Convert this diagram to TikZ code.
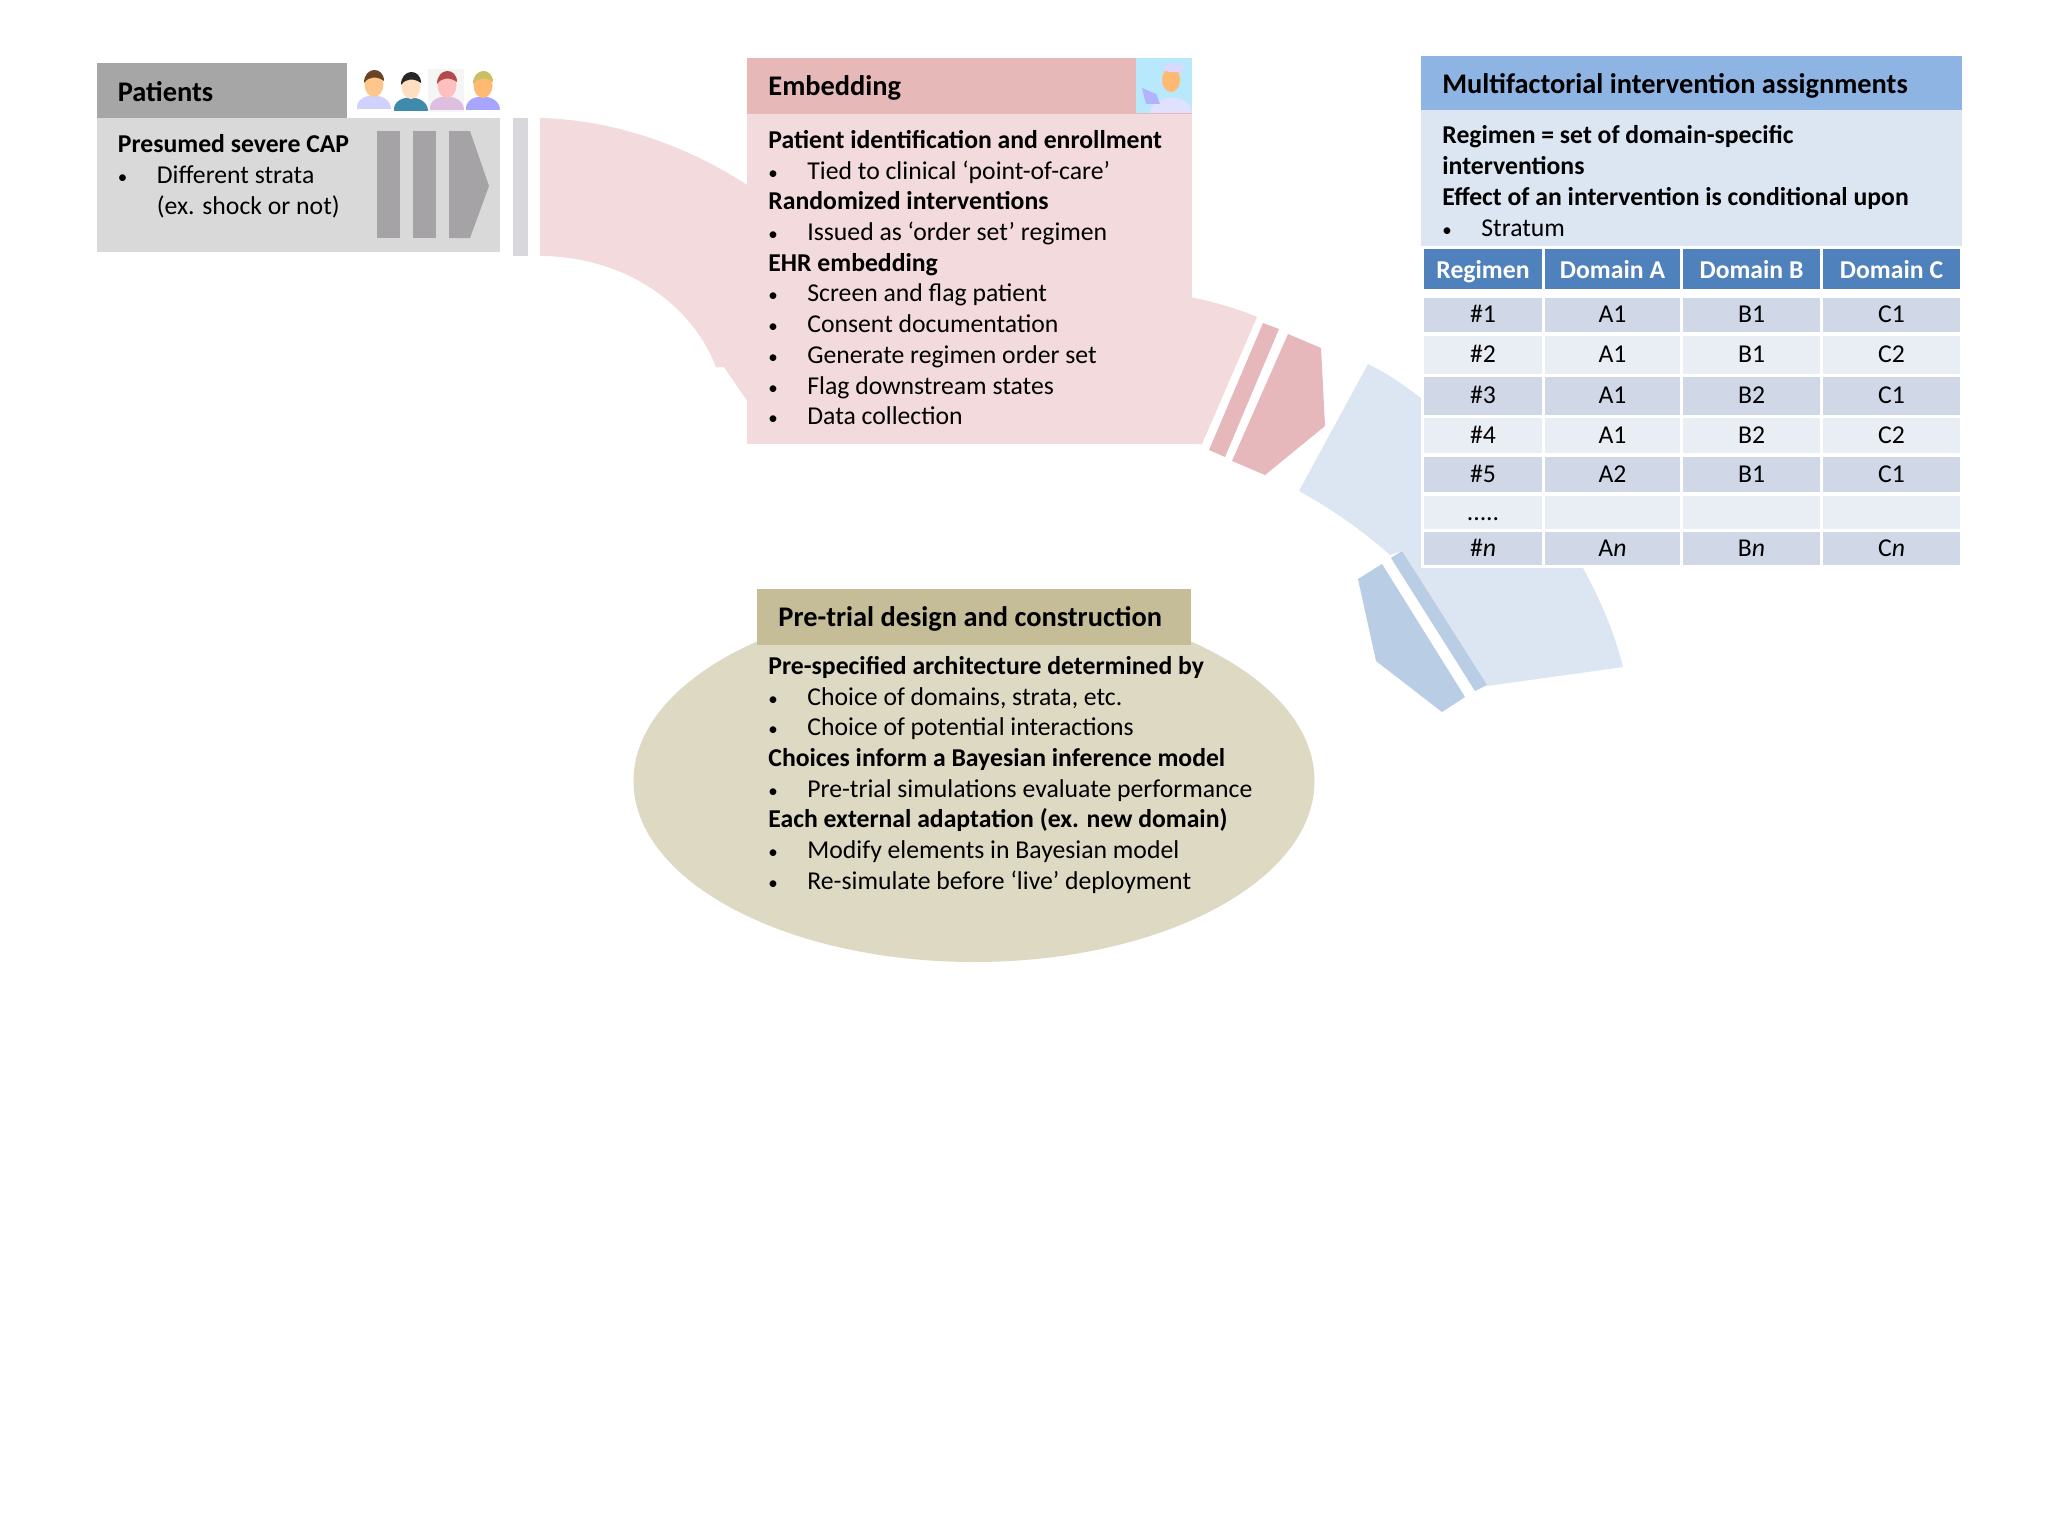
\documentclass[tikz,border=0pt]{standalone}
\usepackage{fontspec}
\setmainfont{Carlito}
\usetikzlibrary{shapes.geometric}
\definecolor{patienthead}{HTML}{A6A6A6}
\definecolor{patientbody}{HTML}{D9D9D9}
\definecolor{patientbar}{HTML}{A5A3A6}
\definecolor{patientstrip}{HTML}{D8D7DB}
\definecolor{embedhead}{HTML}{E6B9B8}
\definecolor{embedbody}{HTML}{F3DADC}
\definecolor{embedmark}{HTML}{E6B7BB}
\definecolor{regimenhead}{HTML}{8EB4E3}
\definecolor{regimenbody}{HTML}{DCE6F2}
\definecolor{regimenmark}{HTML}{B9CDE5}
\definecolor{cellhead}{HTML}{4F81BD}
\definecolor{cellodd}{HTML}{D0D8E8}
\definecolor{celleven}{HTML}{E9EDF4}
\definecolor{pretrialhead}{HTML}{C4BD97}
\definecolor{pretrialbody}{HTML}{DDD9C3}
\newcommand{\bul}[1]{\makebox[19.5pt][l]{\fontsize{9.5}{9.5}\selectfont•}#1}
\newcommand{\bhang}[1]{\hspace*{19.5pt}#1}
\newcommand{\fivedots}{.{}.{}.{}.{}.}
\newcommand{\personicon}[5]{%
  \begin{scope}[shift={(#1,#2)}]
    \fill[#5] (-17,24) .. controls (-19,6) and (17,6) .. (17,24) -- cycle;
    \fill[#4] (0,-1) ellipse [x radius=9.5, y radius=13];
    \fill[#3] (-10,-2) .. controls (-10,-19) and (10,-19) .. (10,-4) .. controls (3,-9) and (-5,-9) .. (-10,-2) -- cycle;
  \end{scope}}
\tikzset{
  headtext/.style={font=\fontsize{14.2}{17}\selectfont\bfseries, anchor=west, inner sep=0pt},
  bodytext/.style={font=\fontsize{12.85}{15.35}\selectfont, align=left, anchor=north west, inner sep=0pt},
  cell/.style={font=\fontsize{12.85}{15}\selectfont, inner sep=0pt, text height=9.4pt, text depth=1.6pt},
  cellh/.style={cell, text=white, font=\fontsize{12.85}{15}\selectfont\bfseries, text height=10.6pt, text depth=1pt}
}
\begin{document}
\begin{tikzpicture}[x=0.5pt,y=-0.5pt]
  \useasboundingbox (0,0) rectangle (2048,1536);
  \fill[white] (0,0) rectangle (2048,1536);

  % Patients box
  \fill[patienthead] (97,63) rectangle (347,118);
  \fill[patientbody] (97,118) rectangle (500,252);
  \foreach \barx in {377,413} {
    \fill[patientbar] (\barx,131) rectangle (\barx+23,238);
  }
  \fill[patientbar] (449,131) -- (470,131) -- (489,186) -- (470,238) -- (449,238) -- cycle;
  \fill[patientstrip] (513,118) rectangle (528,256);
  \personicon{374}{85}{black!45!brown}{orange!45!white}{blue!18!white}
  \personicon{411}{87}{black!85}{orange!25!white}{cyan!65!black}
  \fill[gray!8] (428,69) rectangle (464,112);
  \personicon{447}{86}{red!40!gray}{red!25!white}{violet!25!white}
  \personicon{483}{86}{yellow!50!gray}{orange!55!white}{blue!35!white}
  \node[headtext] (patientstitle) at (117.5,92) {Patients};
  \node[bodytext] (patientstext) at (117.5,134.5) {\textbf{Presumed severe CAP}\\
    \bul{Different strata}\\
    \bhang{(ex. shock or not)}};

  % Curved band into embedding
  \fill[embedbody] (540,118) .. controls (620,120) and (695,150) .. (750,187) -- (750,405) -- (724,367) -- (716,367)
    .. controls (690,300) and (620,256) .. (540,256) -- cycle;

  % Embedding box
  \fill[embedhead] (747,58) rectangle (1192,114);
  \fill[embedbody] (747,114) rectangle (1192,444);
  \fill[cyan!28!white] (1136,58) rectangle (1192,113);
  \fill[blue!12!white] (1150,113) .. controls (1150,95) and (1190,90) .. (1192,113) -- cycle;
  \fill[blue!30!white] (1142,88) -- (1156,94) -- (1160,104) -- (1146,104) -- cycle;
  \fill[orange!55!white] (1171,80) ellipse [x radius=9, y radius=12];
  \fill[white!85!blue] (1162,70) .. controls (1168,60) and (1182,60) .. (1186,72) -- (1170,72) -- cycle;
  \node[headtext] (embedtitle) at (768,88) {Embedding};
  \node[bodytext] (embedtext) at (768,130) {\textbf{Patient identification and enrollment}\\
    \bul{Tied to clinical ‘point-of-care’}\\
    \textbf{Randomized interventions}\\
    \bul{Issued as ‘order set’ regimen}\\
    \textbf{EHR embedding}\\
    \bul{Screen and flag patient}\\
    \bul{Consent documentation}\\
    \bul{Generate regimen order set}\\
    \bul{Flag downstream states}\\
    \bul{Data collection}};

  % Band and arrow out of embedding
  \fill[embedbody] (1190,297) .. controls (1215,302) and (1238,309) .. (1257,317) -- (1202,444) -- (1190,444) -- cycle;
  \fill[embedmark] (1263,323) -- (1279,329) -- (1225,457) -- (1209,450) -- cycle;
  \fill[embedmark] (1288,334) -- (1321,348) -- (1325,426) -- (1265,475) -- (1232,461) -- cycle;

  % Band behind the table
  \fill[regimenbody] (1368,364) .. controls (1388,374) and (1406,386) .. (1430,405) -- (1583,568)
    .. controls (1602,603) and (1615,635) .. (1623,667) -- (1487,686) -- (1402,551) -- (1390,555)
    .. controls (1362,530) and (1330,508) .. (1299,491) -- cycle;
  \fill[regimenmark] (1402,551) -- (1487,685) -- (1475,691) -- (1391,558) -- cycle;
  \fill[regimenmark] (1382,564) -- (1465,697) -- (1442,712) -- (1376,661) -- (1358,579) -- cycle;

  % Assignments box
  \fill[white] (1421,246) rectangle (1962,568);
  \fill[regimenhead] (1421,56) rectangle (1962,110);
  \fill[regimenbody] (1421,110) rectangle (1962,246);
  \node[headtext] (regimentitle) at (1442,86) {Multifactorial intervention assignments};
  \node[bodytext] (regimentext) at (1442,125.5) {\textbf{Regimen = set of domain-specific}\\
    \textbf{interventions}\\
    \textbf{Effect of an intervention is conditional upon}\\
    \bul{Stratum}};

  % Table
  \foreach \xa/\xb/\cname/\ctext in {1424/1542/reg/Regimen,1545/1680/doma/Domain A,1683/1820/domb/Domain B,1823/1960/domc/Domain C} {
    \pgfmathsetmacro{\cw}{(\xb-\xa)*0.5}
    \node[cellh, fill=cellhead, minimum width=\cw pt, minimum height=20pt] (\cname) at ({(\xa+\xb)/2},269) {\ctext};
  }
  \foreach \rname/\ya/\yb/\rowfill/\ta/\tb/\tc/\td in {
      r1/298/332/cellodd/\#1/A1/B1/C1,
      r2/336/374/celleven/\#2/A1/B1/C2,
      r3/377/415/cellodd/\#3/A1/B2/C1,
      r4/418/453/celleven/\#4/A1/B2/C2,
      r5/457/492/cellodd/\#5/A2/B1/C1,
      r6/496/529/celleven/\fivedots/{}/{}/{},
      r7/532/565/cellodd/\#\textit{n}/A\textit{n}/B\textit{n}/C\textit{n}} {
    \pgfmathsetmacro{\ch}{(\yb-\ya)*0.5}
    \pgfmathsetmacro{\cy}{(\ya+\yb)/2}
    \node[cell, fill=\rowfill, minimum width=59pt, minimum height=\ch pt] (\rname a) at (1483,\cy) {\ta};
    \node[cell, fill=\rowfill, minimum width=67.5pt, minimum height=\ch pt] (\rname b) at (1612.5,\cy) {\tb};
    \node[cell, fill=\rowfill, minimum width=68.5pt, minimum height=\ch pt] (\rname c) at (1751.5,\cy) {\tc};
    \node[cell, fill=\rowfill, minimum width=68.5pt, minimum height=\ch pt] (\rname d) at (1891.5,\cy) {\td};
  }

  % Pre-trial oval
  \node[ellipse, fill=pretrialbody, inner sep=0pt, minimum width=340.5pt, minimum height=181pt] (pretrialoval) at (974,781) {};
  \fill[pretrialhead] (757,589) rectangle (1191,645);
  \node[headtext] (pretrialtitle) at (778,619) {Pre-trial design and construction};
  \node[bodytext] (pretrialtext) at (768,656) {\textbf{Pre-specified architecture determined by}\\
    \bul{Choice of domains, strata, etc.}\\
    \bul{Choice of potential interactions}\\
    \textbf{Choices inform a Bayesian inference model}\\
    \bul{Pre-trial simulations evaluate performance}\\
    \textbf{Each external adaptation (ex. new domain)}\\
    \bul{Modify elements in Bayesian model}\\
    \bul{Re-simulate before ‘live’ deployment}};
\end{tikzpicture}
\end{document}
